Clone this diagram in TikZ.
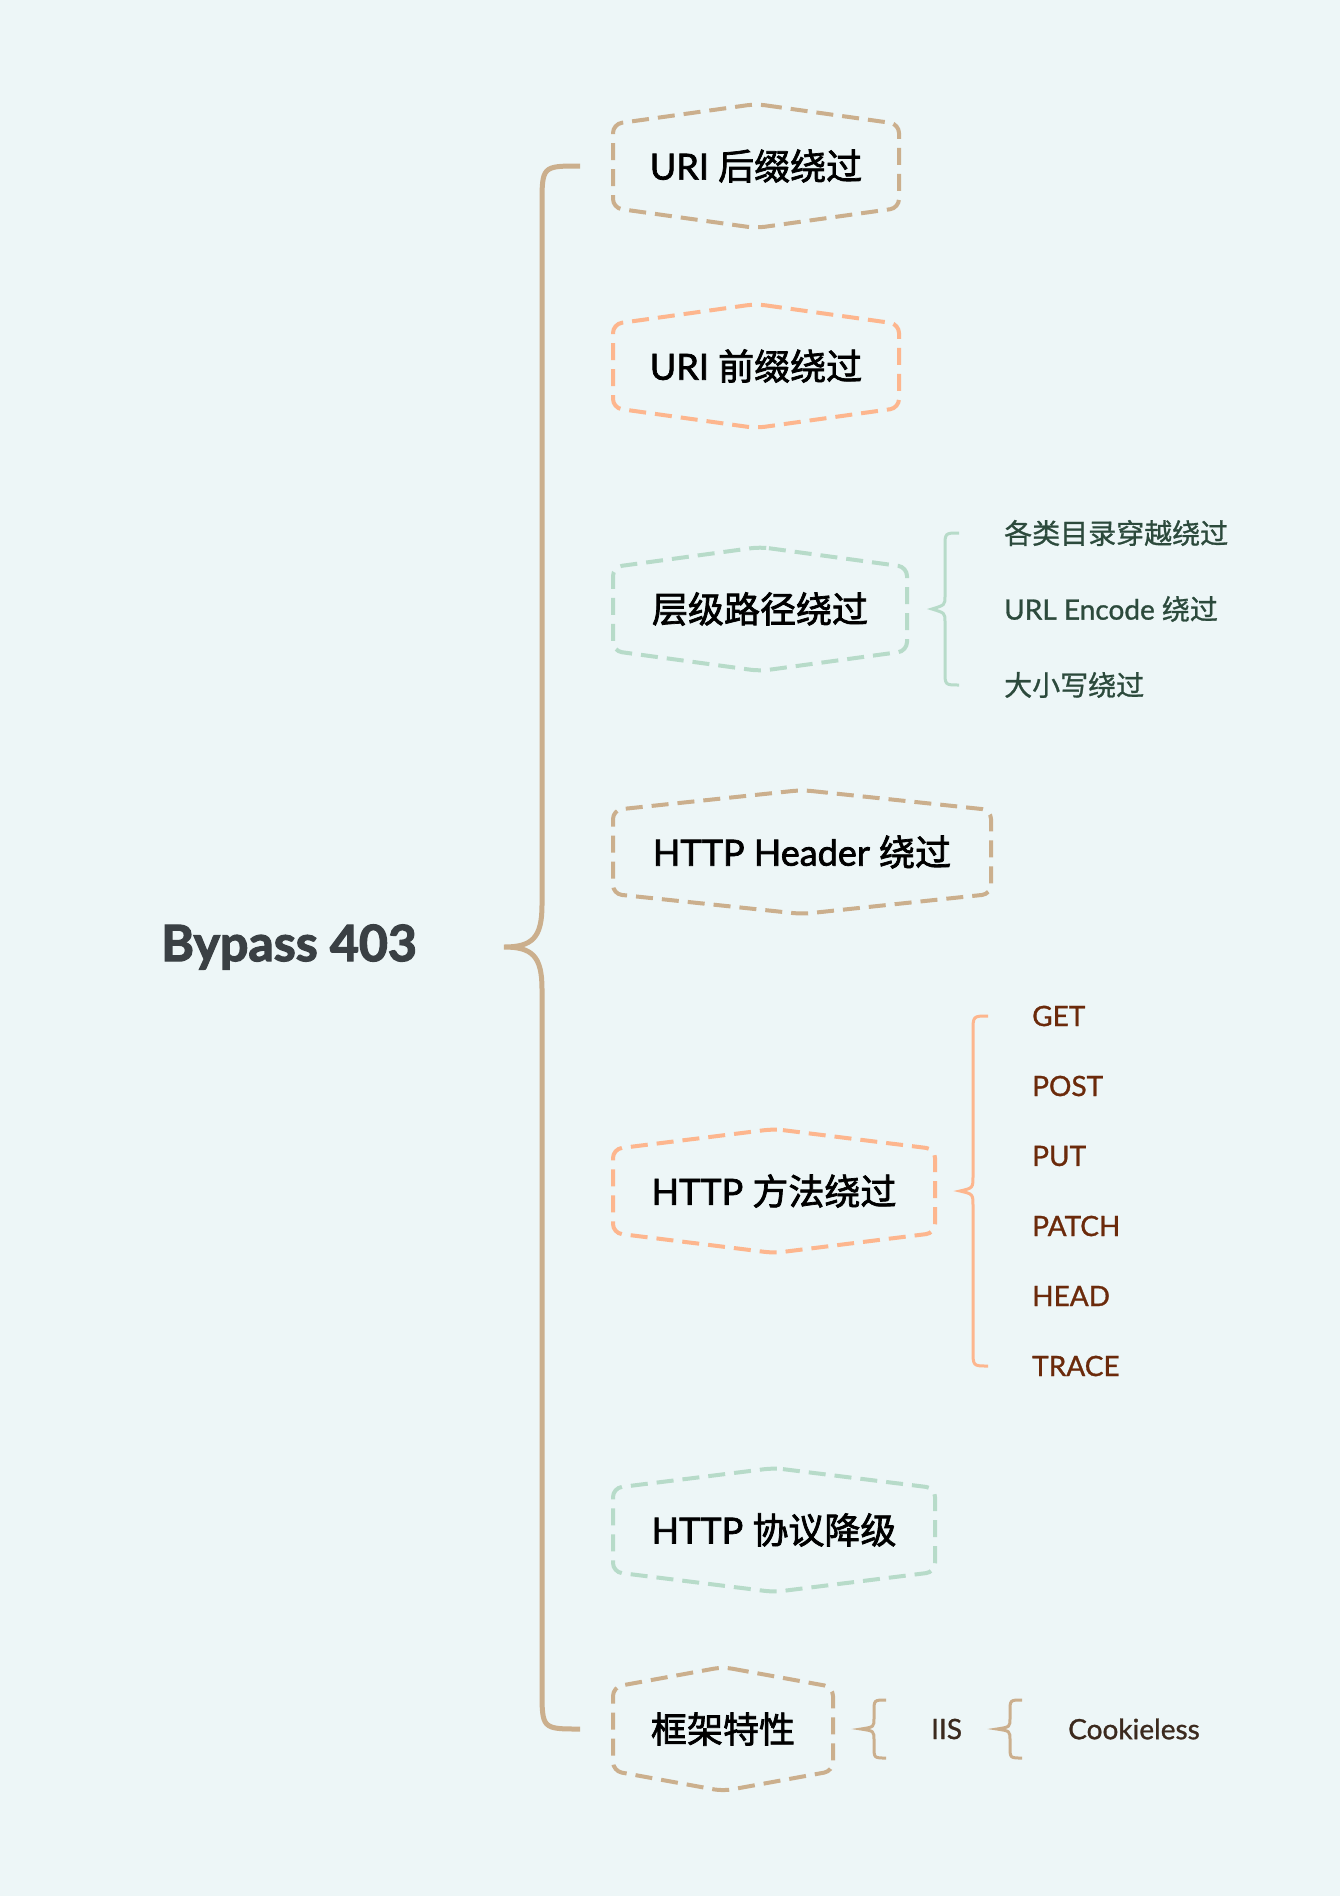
\documentclass[tikz,border=0pt]{standalone}
\usepackage{fontspec}
\setmainfont{Lato}
\newfontfamily\latm{Lato}[FakeBold=2]
\newfontfamily\cjkm{Noto Sans CJK SC}[FakeBold=2]
\newfontfamily\lats{Lato}[FakeBold=1]
\newfontfamily\cjks{Noto Sans CJK SC}[FakeBold=1]
\newfontfamily\rootf{Lato Bold}[FakeBold=2.5]
\definecolor{bgc}{HTML}{EDF6F7}
\definecolor{tan}{HTML}{CBAF8D}
\definecolor{orng}{HTML}{FDB68E}
\definecolor{grn}{HTML}{B7DBC9}
\definecolor{grntxt}{HTML}{2C4A3C}
\definecolor{brntxt}{HTML}{6B2A0B}
\definecolor{cooktxt}{HTML}{3B2A1E}
\definecolor{roottxt}{HTML}{3A4044}
\tikzset{
  hexline/.style={line width=4pt, dash pattern=on 17pt off 9pt, rounded corners=9pt},
  hextext/.style={font=\fontsize{36}{42}\selectfont\latm, text=black, inner sep=0pt},
  mainbrace/.style={draw=tan, line width=5pt},
  subbrace/.style={line width=3pt},
  sublabel/.style={anchor=west, font=\fontsize{28}{33}\selectfont\lats, inner sep=0pt},
  roottext/.style={font=\fontsize{50}{58}\selectfont\rootf, text=roottxt, inner sep=0pt}
}
\newcommand\hexshape[4]{% color, cx, cy, halfwidth
  \draw[hexline,draw=#1] (#2,#3-62) -- (#2+#4,#3-42) -- (#2+#4,#3+42) -- (#2,#3+62) -- (#2-#4,#3+42) -- (#2-#4,#3-42) -- cycle;}
\begin{document}
\begin{tikzpicture}[x=1pt,y=-1pt]
\fill[bgc] (0,0) rectangle (1340,1896);
\useasboundingbox (0,0) rectangle (1340,1896);

% root
\node[roottext] (root) at (289,947) {Bypass 403};

% main brace
\coordinate (mbt) at (580,166);
\coordinate (mbb) at (580,1729);
\coordinate (mtip) at (504,947);
\draw[mainbrace] (mbt) .. controls (542,166) .. (542,206) -- (542,905)
  .. controls (542,938) and (532,947) .. (mtip)
  .. controls (532,947) and (542,956) .. (542,989) -- (542,1689)
  .. controls (542,1729) .. (mbb);

% hexagon nodes
\hexshape{tan}{756}{166}{143}
\node[hextext] (h1) at (756,166) {URI {\cjkm 后缀绕过}};
\hexshape{orng}{756}{366}{143}
\node[hextext] (h2) at (756,366) {URI {\cjkm 前缀绕过}};
\hexshape{grn}{760}{609}{147}
\node[hextext] (h3) at (760,609) {{\cjkm 层级路径绕过}};
\hexshape{tan}{802}{852}{189}
\node[hextext] (h4) at (802,852) {HTTP Header {\cjkm 绕过}};
\hexshape{orng}{774}{1191}{161}
\node[hextext] (h5) at (774,1191) {HTTP {\cjkm 方法绕过}};
\hexshape{grn}{774}{1530}{161}
\node[hextext] (h6) at (774,1530) {HTTP {\cjkm 协议降级}};
\hexshape{tan}{723}{1729}{110}
\node[hextext] (h7) at (723,1729) {{\cjkm 框架特性}};

% level path children
\coordinate (gt) at (959,533);
\coordinate (gb) at (959,685);
\coordinate (gtip) at (932,609);
\draw[subbrace,draw=grn] (gt) .. controls (945,533) .. (945,547) -- (945,596)
  .. controls (945,605) .. (gtip) .. controls (945,613) .. (945,622) -- (945,671)
  .. controls (945,685) .. (gb);
\node[sublabel,text=grntxt] (g1) at (1004,533) {\cjks 各类目录穿越绕过};
\node[sublabel,text=grntxt] (g2) at (1004,609) {URL Encode {\cjks 绕过}};
\node[sublabel,text=grntxt] (g3) at (1004,685) {\cjks 大小写绕过};

% methods
\coordinate (ot) at (988,1016);
\coordinate (ob) at (988,1366);
\coordinate (otip) at (960,1191);
\draw[subbrace,draw=orng] (ot) .. controls (973,1016) .. (973,1032) -- (973,1176)
  .. controls (973,1188) .. (otip) .. controls (973,1194) .. (973,1206) -- (973,1350)
  .. controls (973,1366) .. (ob);
\node[sublabel,text=brntxt] (m1) at (1032,1016) {GET};
\node[sublabel,text=brntxt] (m2) at (1032,1086) {POST};
\node[sublabel,text=brntxt] (m3) at (1032,1156) {PUT};
\node[sublabel,text=brntxt] (m4) at (1032,1226) {PATCH};
\node[sublabel,text=brntxt] (m5) at (1032,1296) {HEAD};
\node[sublabel,text=brntxt] (m6) at (1032,1366) {TRACE};

% framework
\coordinate (ft) at (886,1700);
\coordinate (fb) at (886,1758);
\coordinate (ftip) at (861,1729);
\draw[subbrace,draw=tan] (ft) .. controls (874,1700) .. (874,1712) -- (874,1718)
  .. controls (874,1727) .. (ftip) .. controls (874,1731) .. (874,1740) -- (874,1746)
  .. controls (874,1758) .. (fb);
\node[sublabel,text=cooktxt] (iis) at (931,1729) {IIS};
\coordinate (ct) at (1022,1700);
\coordinate (cb) at (1022,1758);
\coordinate (ctip) at (997,1729);
\draw[subbrace,draw=tan] (ct) .. controls (1010,1700) .. (1010,1712) -- (1010,1718)
  .. controls (1010,1727) .. (ctip) .. controls (1010,1731) .. (1010,1740) -- (1010,1746)
  .. controls (1010,1758) .. (cb);
\node[sublabel,text=cooktxt] (cook) at (1068,1729) {Cookieless};
\end{tikzpicture}
\end{document}
